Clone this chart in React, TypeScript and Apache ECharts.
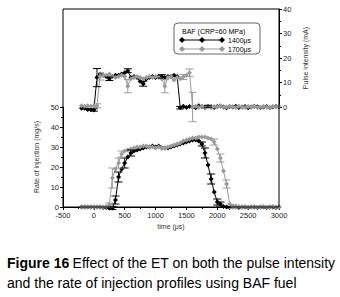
import React, { useEffect, useRef } from 'react';
import * as echarts from 'echarts';

const timeUs = [-200, -150, -100, -50, 0, 50, 100, 150, 200, 250, 300, 350, 400, 450, 500, 550, 600, 650, 700, 750, 800, 850, 900, 950, 1000, 1050, 1100, 1150, 1200, 1250, 1300, 1350, 1400, 1450, 1500, 1550, 1600, 1650, 1700, 1750, 1800, 1850, 1900, 1950, 2000, 2050, 2100, 2150, 2200, 2250, 2300, 2350, 2400, 2450, 2500, 2550, 2600, 2650, 2700, 2750, 2800, 2850, 2900, 2950, 3000];

// Rate of injection (mg/s)
const injection1400 = [0, 0, 0, 0, 0, 0, 0, -0.3, -0.3, -0.5, -0.5, 3.5, 15, 19, 22, 25, 27, 28, 28.5, 29, 29.5, 30, 30, 30.5, 30, 30.5, 29.5, 29.5, 29.5, 30, 30.5, 31, 31.5, 32, 32.5, 33, 33.5, 33.5, 33, 31.5, 27, 21, 14, 7.5, 2.5, 1.5, 0.3, 0, -0.2, 0, 0, -0.2, 0, 0, -0.2, 0, 0, -0.2, 0, 0, -0.2, 0, 0, -0.2, 0];
const injection1700 = [0, 0, 0, 0, 0, 0, 0, 0, 0.3, 1, 14.5, 19, 22, 26.5, 28, 28.5, 29, 29.5, 30, 30, 30.5, 30.5, 30, 30, 29.5, 30, 29.5, 29.5, 30, 30.5, 31, 31.5, 32, 33, 33.5, 34, 34.5, 34.5, 35, 35, 35, 34.5, 34, 32.5, 29, 24.5, 18, 11.5, 1.5, 0.3, 0, 0.2, 0, 0.2, 0, 0, 0.2, 0, 0, 0.2, 0, 0, 0.2, 0, 0];

// Pulse intensity (mA)
const pulse1400 = [-0.5, -0.5, -1, -1, -1.2, 12, 13.5, 13, 12.5, 11.5, 12.5, 13, 13, 13.5, 14, 14.8, 12, 12.5, 12, 10.5, 9.5, 11.5, 12, 12.5, 12, 12.5, 12.5, 12, 12.5, 12.5, 13, 12.5, -0.3, 0.3, -0.2, 0.2, 0, -0.3, 0.5, 0.2, -0.2, 0.3, 0, -0.2, 0.2, 0.4, 0, -0.3, 0.2, 0, 0.3, -0.2, 0, 0.2, -0.3, 0, 0.3, 0.1, -0.2, 0, 0.2, -0.3, 0, 0.2, 0];
const pulse1700 = [0.5, 0.3, 0.5, 0.3, 0.5, 0.5, 12.5, 13, 13, 13.5, 12.5, 12, 12.5, 13, 12.5, 8.5, 11.5, 12, 12.5, 12, 11.5, 12, 12.5, 12, 12.5, 12, 11.5, 8.5, 12, 12.5, 11, 12, 11.5, 12.2, 13, 14, 0, 0.3, -0.2, 0.4, 0, 0.3, -0.3, 0.2, 0, 0.4, -0.2, 0, 0.3, 0.1, -0.2, 0.3, 0, -0.2, 0.2, 0, 0.3, -0.2, 0, 0.2, 0, -0.3, 0.2, 0, 0.2];

// Error bars: [time, value, half-range]
const injErr1400 = [[300, -0.5, 0.8], [350, 3.5, 2], [400, 15, 2.5], [500, 22, 2.5], [600, 27, 1.5], [1750, 31.5, 1], [1800, 27, 2.5], [1900, 14, 2.5], [2000, 2.5, 1.5], [2050, 1.5, 1]];
const injErr1700 = [[250, 1, 1], [300, 14.5, 5], [400, 22, 2.5], [450, 26.5, 1.5], [1950, 32.5, 1.5], [2050, 24.5, 2], [2150, 11.5, 2], [2250, 0.3, 1]];
const pulseErr1400 = [[0, -1.2, 0.5], [50, 12, 3.7], [250, 11.5, 0.7], [550, 14.8, 0.8], [800, 9.5, 1], [1100, 12.5, 0.7], [1400, -0.3, 0.5], [1850, 0.3, 0.4]];
const pulseErr1700 = [[50, 0.5, 0.8], [100, 12.5, 1.5], [550, 8.5, 2.7], [1150, 8.5, 2.7], [1450, 12.2, 1], [1550, 14, 1.5], [1600, 0, 6]];

const xRange = [-500, 3000];
const xInterval = 500;
const injectionRange = [0, 50];
const pulseRange = [0, 40];
const axisStep = 10;

const seriesNames = ['1400μs', '1700μs'];
const legendTitle = 'BAF (CRP=60 MPa)';

const BLACK = '#000000';
const GRAY = '#9a9a9a';
const FONT = "'Liberation Sans', Arial, sans-serif";

const pairs = (vals: number[]) => timeUs.map((t, i) => [t, vals[i]]);

function errSeries(data: number[][], color: string, gi: number) {
  return {
    type: 'custom',
    xAxisIndex: gi,
    yAxisIndex: gi,
    clip: false,
    z: 3,
    silent: true,
    data,
    encode: { x: 0, y: 1 },
    renderItem: (_p: any, api: any) => {
      const x = api.value(0);
      const y = api.value(1);
      const e = api.value(2);
      const top = api.coord([x, y + e]);
      const bot = api.coord([x, y - e]);
      const hw = 4;
      const st = { stroke: color, lineWidth: 1 };
      return {
        type: 'group',
        children: [
          { type: 'line', shape: { x1: top[0], y1: top[1], x2: bot[0], y2: bot[1] }, style: st },
          { type: 'line', shape: { x1: top[0] - hw, y1: top[1], x2: top[0] + hw, y2: top[1] }, style: st },
          { type: 'line', shape: { x1: bot[0] - hw, y1: bot[1], x2: bot[0] + hw, y2: bot[1] }, style: st },
        ],
      };
    },
  };
}

function lineSeries(name: string, vals: number[], color: string, gi: number, z: number) {
  return {
    type: 'line',
    name,
    xAxisIndex: gi,
    yAxisIndex: gi,
    data: pairs(vals),
    symbol: 'diamond',
    symbolSize: 5,
    showAllSymbol: true,
    clip: false,
    z,
    itemStyle: { color },
    lineStyle: { color, width: 1 },
  };
}

const diamond = (cx: number, cy: number, fill: string) => ({
  type: 'polygon',
  shape: { points: [[cx, cy - 3], [cx + 3, cy], [cx, cy + 3], [cx - 3, cy]] },
  style: { fill },
});

export default function App() {
  const ref = useRef<HTMLDivElement>(null);
  useEffect(() => {
    document.body.style.margin = '0';
    if (!ref.current) return;
    const chart = echarts.init(ref.current, null, { renderer: 'svg' });
    const axisLabel = { fontSize: 7.5, color: '#222', fontFamily: FONT, formatter: (v: number) => String(v) };
    const nameStyle = { fontSize: 7, color: '#333', fontFamily: FONT };
    const line = { show: true, onZero: false, lineStyle: { color: BLACK, width: 1 } };
    chart.setOption({
      animation: false,
      backgroundColor: '#fff',
      grid: [
        { left: 63, width: 216, top: 9, height: 98 },
        { left: 63, width: 216, top: 107, height: 100 },
      ],
      xAxis: [
        { gridIndex: 0, type: 'value', min: xRange[0], max: xRange[1], interval: xInterval, show: false },
        {
          gridIndex: 1, type: 'value', min: xRange[0], max: xRange[1], interval: xInterval,
          name: 'time (μs)', nameLocation: 'middle', nameGap: 16, nameTextStyle: nameStyle,
          axisLine: line,
          axisTick: { show: true, length: 3, lineStyle: { color: BLACK } },
          minorTick: { show: true, splitNumber: 2, length: 2, lineStyle: { color: BLACK } },
          axisLabel: { ...axisLabel, margin: 4 },
          splitLine: { show: false },
        },
      ],
      yAxis: [
        {
          gridIndex: 0, type: 'value', position: 'right', min: pulseRange[0], max: pulseRange[1], interval: axisStep,
          name: 'Pulse intensity (mA)', nameLocation: 'middle', nameRotate: 90, nameGap: 18, nameTextStyle: nameStyle,
          axisLine: line,
          axisTick: { show: true, length: 3, lineStyle: { color: BLACK } },
          minorTick: { show: true, splitNumber: 2, length: 2, lineStyle: { color: BLACK } },
          axisLabel: { ...axisLabel, margin: 4 },
          splitLine: { show: false },
        },
        {
          gridIndex: 1, type: 'value', position: 'left', min: injectionRange[0], max: injectionRange[1], interval: axisStep,
          name: 'Rate of injection (mg/s)', nameLocation: 'middle', nameRotate: 90, nameGap: 21, nameTextStyle: nameStyle,
          axisLine: line,
          axisTick: { show: true, length: 3, lineStyle: { color: BLACK } },
          minorTick: { show: true, splitNumber: 2, length: 2, lineStyle: { color: BLACK } },
          axisLabel: { ...axisLabel, margin: 4 },
          splitLine: { show: false },
        },
      ],
      series: [
        lineSeries(seriesNames[0], pulse1400, BLACK, 0, 2),
        lineSeries(seriesNames[1], pulse1700, GRAY, 0, 2),
        errSeries(pulseErr1400, BLACK, 0),
        errSeries(pulseErr1700, GRAY, 0),
        lineSeries(seriesNames[0] + ' ', injection1400, BLACK, 1, 2),
        lineSeries(seriesNames[1] + ' ', injection1700, GRAY, 1, 2),
        errSeries(injErr1400, BLACK, 1),
        errSeries(injErr1700, GRAY, 1),
      ],
      graphic: [
        {
          type: 'rect', silent: true, z: 10,
          shape: { x: 63, y: 9, width: 216, height: 198 },
          style: { fill: 'none', stroke: BLACK, lineWidth: 1 },
        },
        {
          type: 'group', z: 11,
          children: [
            { type: 'rect', shape: { x: 174, y: 23, width: 86, height: 31, r: 4 }, style: { fill: '#fff', stroke: '#666', lineWidth: 1 } },
            { type: 'text', x: 182, y: 28, style: { text: legendTitle, fontSize: 7, fontFamily: FONT, fill: '#000' } },
            { type: 'line', shape: { x1: 182, y1: 40, x2: 222, y2: 40 }, style: { stroke: BLACK, lineWidth: 1 } },
            diamond(182, 40, BLACK), diamond(202, 40, BLACK), diamond(222, 40, BLACK),
            { type: 'text', x: 228, y: 36.5, style: { text: seriesNames[0], fontSize: 7, fontFamily: FONT, fill: '#000' } },
            { type: 'line', shape: { x1: 182, y1: 49, x2: 222, y2: 49 }, style: { stroke: GRAY, lineWidth: 1 } },
            diamond(182, 49, GRAY), diamond(202, 49, GRAY), diamond(222, 49, GRAY),
            { type: 'text', x: 228, y: 45.5, style: { text: seriesNames[1], fontSize: 7, fontFamily: FONT, fill: '#000' } },
          ],
        },
        {
          type: 'text', x: 7, y: 253, z: 11,
          style: {
            text: '{b|Figure 16} {r|Effect of the ET on both the pulse intensity}\n{r|and the rate of injection profiles using BAF fuel}',
            fill: '#000',
            rich: {
              b: { fontSize: 14, fontWeight: 'bold', fontFamily: FONT, lineHeight: 20, fill: '#000' },
              r: { fontSize: 14, fontFamily: "'Liberation Sans Narrow', 'Arial Narrow', " + FONT, lineHeight: 20, fill: '#000' },
            },
          },
        },
      ],
    });
    return () => chart.dispose();
  }, []);
  return <div ref={ref} style={{ width: 340, height: 297 }} />;
}
